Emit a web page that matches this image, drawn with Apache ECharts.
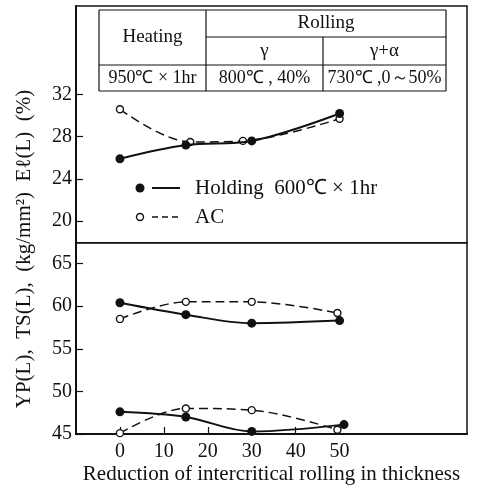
<!DOCTYPE html>
<html>
<head>
<meta charset="utf-8">
<script src="https://cdn.jsdelivr.net/npm/echarts@6/dist/echarts.min.js"></script>
<style>
  html, body { margin: 0; padding: 0; background: #fff; }
  #chart { width: 481px; height: 488px; }
</style>
</head>
<body>
<div id="chart"></div>
<script>
// reduction of intercritical rolling (%)
var holdX = [0, 15, 30, 50];
var acElX = [0, 16, 28, 50];
var acX = [0, 15, 30, 49.5];
var ypHoldX = [0, 15, 30, 51];

// El(L) %
var elHolding = [25.9, 27.2, 27.6, 30.2];
var elAC = [30.6, 27.5, 27.6, 29.7];
// TS(L) kg/mm2
var tsHolding = [60.4, 59.0, 58.0, 58.3];
var tsAC = [58.5, 60.5, 60.5, 59.2];
// YP(L) kg/mm2
var ypHolding = [47.6, 47.0, 45.3, 46.1];
var ypAC = [45.1, 48.0, 47.8, 45.5];

var xTicks = [0, 10, 20, 30, 40, 50];
var elTicks = [20, 24, 28, 32];
var strTicks = [45, 50, 55, 60, 65];

var FONT = "'Liberation Serif', 'Times New Roman', serif";

function pairs(xs, ys) {
    return ys.map(function (v, i) { return [xs[i], v]; });
}

function lineSeries(name, xi, yi, xs, ys, open) {
    return {
        name: name,
        type: 'line',
        xAxisIndex: xi,
        yAxisIndex: yi,
        data: pairs(xs, ys),
        smooth: 0.35,
        symbol: 'circle',
        symbolSize: open ? 7 : 9,
        lineStyle: {
            color: '#111',
            width: open ? 1.5 : 2,
            type: open ? [9, 5] : 'solid'
        },
        itemStyle: {
            color: open ? '#fff' : '#111',
            borderColor: '#111',
            borderWidth: open ? 1.4 : 0
        },
        z: open ? 3 : 4
    };
}

var chart = echarts.init(document.getElementById('chart'));

var tbl = { l: 99, c1: 206, c2: 323, r: 446, t: 10, m1: 37, m2: 65, b: 91 };
function hline(x1, x2, y) {
    return { type: 'line', shape: { x1: x1, y1: y, x2: x2, y2: y }, style: { stroke: '#111', lineWidth: 1.2 } };
}
function vline(x, y1, y2) {
    return { type: 'line', shape: { x1: x, y1: y1, x2: x, y2: y2 }, style: { stroke: '#111', lineWidth: 1.2 } };
}
function txt(x, y, s, size) {
    return {
        type: 'text', x: x, y: y,
        style: { text: s, font: (size || 19) + 'px ' + FONT, fill: '#111', align: 'center', verticalAlign: 'middle' }
    };
}

var option = {
    animation: false,
    backgroundColor: '#fff',
    grid: [
        { left: 76, right: 14, top: 6, height: 236.7, show: true, borderColor: '#111', borderWidth: 1.5 },
        { left: 76, right: 14, top: 242.7, bottom: 54, show: true, borderColor: '#111', borderWidth: 1.5 }
    ],
    xAxis: [
        { type: 'value', gridIndex: 0, min: -10, max: 79, show: false },
        {
            type: 'value', gridIndex: 1, min: -10, max: 79,
            name: 'Reduction of intercritical rolling in thickness',
            nameLocation: 'middle', nameGap: 30,
            nameTextStyle: { fontFamily: FONT, fontSize: 21, color: '#111' },
            axisLine: { onZero: false, lineStyle: { color: '#111', width: 2 } },
            axisTick: { inside: true, length: 7, customValues: xTicks, lineStyle: { color: '#111', width: 1.2 } },
            axisLabel: { customValues: xTicks, fontFamily: FONT, fontSize: 20, color: '#111', margin: 8 },
            splitLine: { show: false }
        }
    ],
    yAxis: [
        {
            type: 'value', gridIndex: 0, min: 17.94, max: 40.4,
            axisLine: { show: true, onZero: false, lineStyle: { color: '#111', width: 2 } },
            axisTick: { show: true, inside: true, length: 7, customValues: elTicks, lineStyle: { color: '#111', width: 1.2 } },
            axisLabel: { customValues: elTicks, fontFamily: FONT, fontSize: 20, color: '#111', margin: 4 },
            splitLine: { show: false }
        },
        {
            type: 'value', gridIndex: 1, min: 45, max: 67.44,
            axisLine: { show: true, onZero: false, lineStyle: { color: '#111', width: 2 } },
            axisTick: { show: true, inside: true, length: 7, customValues: strTicks, lineStyle: { color: '#111', width: 1.2 } },
            axisLabel: { customValues: strTicks, fontFamily: FONT, fontSize: 20, color: '#111', margin: 4 },
            splitLine: { show: false }
        }
    ],
    series: [
        lineSeries('El AC', 0, 0, acElX, elAC, true),
        lineSeries('El Holding', 0, 0, holdX, elHolding, false),
        lineSeries('TS AC', 1, 1, acX, tsAC, true),
        lineSeries('TS Holding', 1, 1, holdX, tsHolding, false),
        lineSeries('YP AC', 1, 1, acX, ypAC, true),
        lineSeries('YP Holding', 1, 1, ypHoldX, ypHolding, false)
    ],
    graphic: [
        // y axis title
        {
            type: 'text', x: 24, y: 249, rotation: Math.PI / 2,
            style: { text: 'YP(L),  TS(L),  (kg/mm²)  Eℓ(L)  (%)', font: '21px ' + FONT, fill: '#111', align: 'center', verticalAlign: 'middle' }
        },
        // condition table
        hline(tbl.l, tbl.r, tbl.t),
        hline(tbl.c1, tbl.r, tbl.m1),
        hline(tbl.l, tbl.r, tbl.m2),
        hline(tbl.l, tbl.r, tbl.b),
        vline(tbl.l, tbl.t, tbl.b),
        vline(tbl.c1, tbl.t, tbl.b),
        vline(tbl.c2, tbl.m1, tbl.b),
        vline(tbl.r, tbl.t, tbl.b),
        txt((tbl.l + tbl.c1) / 2, (tbl.t + tbl.m2) / 2, 'Heating'),
        txt((tbl.c1 + tbl.r) / 2, (tbl.t + tbl.m1) / 2, 'Rolling'),
        txt((tbl.c1 + tbl.c2) / 2, (tbl.m1 + tbl.m2) / 2, 'γ'),
        txt((tbl.c2 + tbl.r) / 2, (tbl.m1 + tbl.m2) / 2, 'γ+α'),
        txt((tbl.l + tbl.c1) / 2, (tbl.m2 + tbl.b) / 2, '950℃ × 1hr', 18),
        txt((tbl.c1 + tbl.c2) / 2, (tbl.m2 + tbl.b) / 2, '800℃ , 40%', 18),
        txt((tbl.c2 + tbl.r) / 2, (tbl.m2 + tbl.b) / 2, '730℃ ,0～50%', 18),
        // legend
        { type: 'circle', shape: { cx: 140, cy: 188, r: 4.5 }, style: { fill: '#111' } },
        { type: 'line', shape: { x1: 152, y1: 188, x2: 180, y2: 188 }, style: { stroke: '#111', lineWidth: 2 } },
        { type: 'text', x: 195, y: 188, style: { text: 'Holding  600℃ × 1hr', font: '21px ' + FONT, fill: '#111', verticalAlign: 'middle' } },
        { type: 'circle', shape: { cx: 140, cy: 217, r: 3.5 }, style: { fill: '#fff', stroke: '#111', lineWidth: 1.4 } },
        { type: 'line', shape: { x1: 152, y1: 217, x2: 182, y2: 217 }, style: { stroke: '#111', lineWidth: 1.5, lineDash: [6, 4] } },
        { type: 'text', x: 195, y: 217, style: { text: 'AC', font: '21px ' + FONT, fill: '#111', verticalAlign: 'middle' } }
    ]
};

chart.setOption(option);
</script>
</body>
</html>
